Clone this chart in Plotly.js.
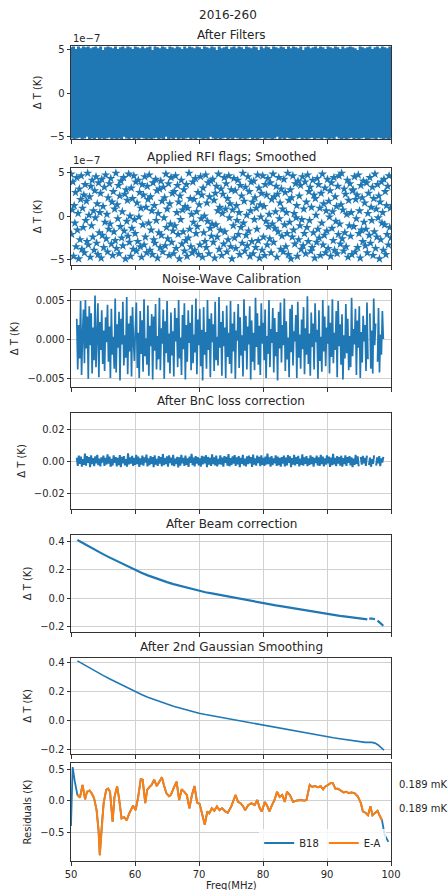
<!DOCTYPE html>
<html><head><meta charset="utf-8">
<script src="https://cdn.plot.ly/plotly-3.0.1.min.js"></script>
<style>html,body{margin:0;padding:0;background:#fff}#chart{width:448px;height:890px}</style>
</head><body><div id="chart"></div>
<script>
// ---------------- DATA ----------------
const figTitle = "2016-260";
const panelTitles = ["After Filters", "Applied RFI flags; Smoothed", "Noise-Wave Calibration",
  "After BnC loss correction", "After Beam correction", "After 2nd Gaussian Smoothing"];
const xTicks = [50, 60, 70, 80, 90, 100];

// Panel 1: after filters (units of 1e-7 K)
const filtered_1e7 = [
5.3,-5.2,5.4,-5.3,5.1,-5.2,5.4,-5.1,5.2,-5.3,5.4,-5.2,5.3,-5.0,5.4,-5.3,5.2,-5.2,5.3,-5.3,
5.4,-5.1,5.2,-5.3,5.4,-5.2,5.0,-5.3,5.3,-5.2,5.4,-5.1,5.3,-5.3,5.2,-5.2,5.4,-5.3,5.1,-5.2,
5.3,-5.3,5.4,-5.0,5.2,-5.2,5.4,-5.3,5.3,-5.1,5.1,-5.3,5.4,-5.2,5.3,-5.3,5.2,-5.1,5.4,-5.2,
5.2,-5.3,5.3,-5.2,5.4,-5.3,5.0,-5.2,5.4,-5.1,5.3,-5.3,5.2,-5.2,5.4,-5.3,5.3,-5.0,5.1,-5.3,
5.4,-5.2,5.3,-5.3,5.2,-5.1,5.4,-5.3,5.3,-5.2,5.1,-5.3,5.4,-5.2,5.2,-5.1,5.4,-5.3,5.3,-5.2,
5.2,-5.3,5.4,-5.1,5.3,-5.2,5.1,-5.3,5.4,-5.2,5.3,-5.3,5.2,-5.0,5.4,-5.2,5.3,-5.3,5.0,-5.2,
5.4,-5.3,5.2,-5.2,5.3,-5.1,5.4,-5.3,5.1,-5.2,5.3,-5.3,5.4,-5.1,5.2,-5.2,5.4,-5.3,5.3,-5.2,
5.1,-5.3,5.4,-5.2,5.3,-5.1,5.2,-5.3,5.4,-5.2,5.3,-5.3,5.0,-5.2,5.4,-5.1,5.2,-5.3,5.4,-5.2,
5.3,-5.2,5.1,-5.3,5.4,-5.2,5.3,-5.0,5.2,-5.3,5.4,-5.2,5.3,-5.3,5.1,-5.1,5.4,-5.2,5.2,-5.3,
5.4,-5.3,5.3,-5.2,5.2,-5.1,5.4,-5.3,5.0,-5.2,5.3,-5.3,5.4,-5.2,5.2,-5.1,5.3,-5.3,5.4,-5.2,
5.2,-5.2,5.4,-5.3,5.3,-5.1,5.1,-5.2,5.4,-5.3,5.3,-5.2,5.2,-5.3,5.4,-5.0,5.3,-5.2,5.1,-5.3,
5.4,-5.2,5.2,-5.3,5.3,-5.2,5.4,-5.1,5.3,-5.3,5.2,-5.2,5.0,-5.3,5.4,-5.2,5.3,-5.1,5.2,-5.3,
5.3,-5.3,5.4,-5.2,5.1,-5.2,5.3,-5.3,5.4,-5.1,5.2,-5.2,5.4,-5.3,5.3,-5.2,5.2,-5.3,5.4,-5.2
];

// Panel 2: RFI flagged + smoothed (units of 1e-7 K)
const rfiSmoothed_1e7 = [
4.8,-2.1,0.7,3.9,-4.6,1.2,-0.8,2.7,-3.5,4.4,-1.6,0.3,-4.9,3.1,-2.7,1.9,4.6,-3.8,0.9,-1.3,
2.4,-4.2,3.6,-0.5,1.7,-2.9,4.9,-3.3,0.1,2.2,-4.7,3.4,-1.1,4.1,-2.4,0.6,-3.9,2.9,-0.2,4.5,
-3.1,1.4,-4.4,3.8,-1.9,0.4,2.6,-4.8,4.2,-2.2,1.1,-3.6,3.3,-0.7,4.7,-2.6,0.2,-4.1,2.1,-1.5,
3.7,-0.9,4.3,-3.2,1.6,-4.5,2.8,-1.8,0.8,-2.8,4.9,-3.7,1.3,-0.3,3.5,-4.3,2.3,-1.2,4.0,-2.5,
0.5,-3.4,4.4,-1.7,2.5,-4.9,3.0,-0.6,1.8,-2.3,4.8,-3.0,0.0,-4.6,3.2,-1.4,2.0,-3.8,4.6,-0.4,
-2.0,3.9,-4.0,1.5,-2.9,4.1,-0.1,2.7,-3.5,0.9,-4.7,3.6,-1.0,2.4,-3.3,4.5,-2.4,1.0,-4.2,3.4,
1.9,-0.8,4.7,-3.9,2.2,-1.6,0.6,-4.4,3.8,-2.7,1.2,-3.1,4.2,-0.5,2.9,-4.8,0.3,-1.9,3.1,-3.6,
4.0,-2.2,1.7,-4.1,3.3,-0.2,2.1,-3.4,4.8,-1.3,0.8,-2.6,3.7,-4.5,1.4,-0.9,4.4,-3.0,2.6,-1.7,
-4.3,2.8,-1.1,4.6,-3.7,0.4,3.5,-2.1,1.6,-4.9,2.3,-0.4,4.1,-3.2,0.7,-1.8,3.0,-4.0,1.1,-2.8,
3.6,-4.6,0.9,-2.5,4.9,-1.5,2.0,-3.5,0.2,-4.2,3.9,-0.7,1.9,-3.9,4.3,-2.0,0.5,-1.2,2.7,-4.4,
1.3,-3.3,4.5,-0.3,2.4,-4.7,3.2,-1.9,0.0,-2.9,4.7,-3.6,1.5,-0.6,3.8,-4.3,2.2,-1.4,4.0,-2.3,
-0.9,4.2,-3.0,1.8,-4.8,2.6,-1.0,3.4,-2.4,0.6,4.8,-3.8,1.0,-1.6,3.1,-4.5,0.3,2.5,-3.2,4.4,
-1.8,0.8,3.7,-4.1,2.0,-2.7,4.6,-0.2,1.4,-3.5,3.0,-4.9,0.7,-1.1,4.3,-2.5,2.9,-3.7,1.2,-0.5,
4.1,-2.1,0.4,-4.4,3.5,-1.3,2.3,-3.1,4.9,-0.8,1.7,-4.0,3.3,-2.2,0.1,-3.4,4.5,-1.7,2.8,-4.6,
0.6,3.9,-2.9,1.6,-4.3,4.0,-0.4,2.1,-3.6,0.9,-1.5,4.7,-2.8,3.2,-4.8,1.3,-0.1,2.6,-3.9,4.6,
-2.4,1.1,-4.5,3.6,-0.6,2.4,-3.3,4.3,-1.2,0.2,-2.6,3.8,-4.2,1.9,-0.9,4.8,-3.0,2.2,-1.4,0.5,
3.4,-4.7,2.5,-1.8,4.4,-0.3,1.5,-3.8,3.1,-2.3,0.8,-4.1,4.2,-1.0,2.7,-3.5,0.4,-2.0,4.9,-4.4,
1.8,-0.7,3.0,-4.9,2.1,-2.4,4.6,-1.6,0.3,-3.2,3.7,-0.2,1.2,-4.6,4.0,-2.7,2.3,-1.1,3.5,-3.8,
-0.4,4.5,-3.4,0.8,-2.0,3.9,-4.3,1.6,-1.3,4.7,-2.9,2.8,-0.5,3.3,-4.0,1.0,-3.6,4.1,-1.9,2.4,
-4.8,2.0,0.1,-3.0,4.3,-1.5,3.6,-2.5,0.9,-4.5,2.6,-0.8,4.8,-3.3,1.4,-2.2,3.2,-4.2,0.6,-1.7,
4.2,-3.7,1.7,-0.1,2.9,-4.6,3.8,-1.4,0.5,-2.8,4.4,-3.9,2.2,-0.6,1.1,-4.3,3.4,-2.1,4.6,-0.9,
-3.2,1.3,4.9,-2.6,0.7,-4.0,3.1,-1.9,2.5,-3.5,0.2,4.1,-4.7,1.8,-1.1,3.7,-2.3,0.4,-4.4,2.9,
3.0,-1.2,4.5,-4.1,1.9,-0.3,2.4,-3.6,4.7,-2.0,0.6,-4.8,3.5,-1.6,2.1,-2.9,4.0,-0.7,1.5,-3.4,
-1.5,3.8,-4.2,0.3,2.6,-2.2,4.4,-3.1,1.0,-0.5,3.3,-4.5,2.0,-1.8,4.8,-3.7,0.8,-2.4,3.6,-0.2,
2.3,-4.9,1.6,-2.7,3.9,-0.8,0.4,-3.9,4.2,-1.0,2.8,-4.4,1.2,-2.1,3.4,-3.3,4.6,-1.3,0.9,-2.5
];

// Panel 3: noise-wave calibration (mK)
const noiseWave_mK = [
2.6,-3.9,1.8,-2.5,4.9,-4.6,0.6,3.8,-3.1,5.0,-1.2,2.9,-5.1,4.2,-0.8,3.3,-4.4,1.5,-2.7,5.6,
-3.6,0.9,4.6,-4.9,2.2,-1.4,3.7,-3.2,1.1,-4.1,2.8,-0.4,4.4,-2.9,1.6,-5.0,3.9,-2.0,0.3,-3.8,
5.2,-4.3,1.9,-1.1,3.5,-5.3,2.6,-0.7,4.8,-3.4,0.5,-2.4,5.4,-4.5,2.0,-1.6,3.0,-4.8,4.1,-0.2,
-2.8,1.3,4.7,-3.7,0.8,-5.0,3.6,-1.9,2.4,-4.2,5.1,-2.2,0.1,-3.3,4.3,-4.7,1.7,-0.9,3.2,-5.2,
2.9,-1.5,4.5,-3.9,0.4,-2.6,5.3,-4.0,1.4,-0.6,3.8,-5.1,2.3,-1.8,4.9,-3.0,0.7,-4.4,3.4,-2.1,
1.0,-4.8,4.0,-0.3,2.7,-3.6,5.0,-2.5,0.2,-4.6,3.1,-1.3,4.6,-5.2,1.8,-2.9,3.7,-0.5,2.1,-4.0,
4.4,-3.1,0.6,-1.7,5.2,-4.5,2.5,-0.8,3.9,-3.5,1.2,-5.3,4.1,-2.0,0.9,-3.8,5.0,-1.4,2.6,-4.9,
3.3,-0.4,1.9,-4.1,4.8,-2.7,0.3,-3.4,5.4,-1.1,2.2,-4.7,3.6,-0.9,1.5,-5.0,4.3,-2.3,0.8,-3.2,
4.9,-4.4,2.0,-1.6,3.5,-5.1,1.1,-0.2,4.5,-3.7,2.8,-2.1,0.5,-4.8,5.1,-1.5,3.0,-3.9,1.6,-0.7,
4.2,-5.2,2.4,-2.9,0.8,-4.0,5.3,-1.0,3.3,-3.3,1.7,-4.6,4.6,-0.6,2.1,-2.7,3.8,-5.0,0.4,-1.9,
5.0,-3.6,1.3,-0.5,4.0,-4.3,2.7,-2.2,0.9,-5.3,3.5,-1.2,4.7,-3.0,1.8,-0.8,5.2,-4.1,2.3,-2.6,
0.2,-4.9,3.9,-1.7,4.4,-3.4,1.0,-0.3,3.1,-5.0,4.8,-2.4,0.6,-3.8,2.5,-1.3,4.1,-4.5,1.4,-2.0,
5.5,-3.2,0.7,-4.7,3.4,-1.0,2.0,-3.9,4.6,-0.4,1.2,-5.1,3.7,-2.8,0.3,-4.2,5.0,-1.6,2.9,-3.5,
1.5,-0.6,4.3,-4.4,2.1,-2.3,5.1,-3.1,0.8,-1.4,3.6,-4.9,4.9,-0.9,1.9,-3.3,3.2,-5.2,0.5,-2.5,
4.5,-1.8,2.6,-4.0,0.4,-3.6,5.3,-2.2,1.3,-0.7,3.9,-4.6,2.4,-1.1,4.2,-5.0,0.9,-3.0,3.0,-0.3,
1.8,-4.1,4.7,-2.6,null,3.3,-3.8,1.1,-4.4,5.2,-0.8,2.0,null,-2.9,4.0,-4.3,0.6,-2.0,3.6,0.0
];

// Panel 4: after BnC loss correction (mK)
const bncCorrected_mK = [
2.1,-3.0,3.4,-1.8,2.7,-3.5,1.2,-2.4,4.6,-2.9,3.1,-1.1,2.5,-3.8,3.6,-2.0,1.8,-3.2,2.9,-1.5,
3.8,-2.6,1.5,-3.4,2.2,-0.9,3.3,-3.1,2.0,-2.2,4.2,-1.7,2.8,-3.6,1.4,-2.8,3.5,-1.2,2.4,-3.3,
1.9,-2.5,3.7,-3.9,2.6,-1.4,3.0,-2.7,1.1,-3.5,4.8,-2.1,2.3,-1.6,3.2,-3.0,2.0,-2.4,3.9,-1.9,
2.7,-3.7,1.6,-2.3,3.4,-2.9,2.2,-1.0,4.0,-3.4,1.7,-2.6,3.1,-1.8,2.5,-3.9,3.6,-2.2,1.3,-3.1,
3.0,-1.6,2.4,-3.3,4.4,-2.5,1.8,-2.0,2.9,-3.6,3.5,-1.3,2.1,-2.8,3.8,-3.2,1.5,-1.9,2.6,-4.0,
2.3,-2.9,3.9,-1.5,2.0,-3.0,3.3,-2.4,1.6,-3.7,2.7,-1.1,4.5,-2.6,2.1,-3.3,3.0,-1.7,2.4,-2.8,
1.7,-3.5,3.2,-2.1,2.8,-1.4,3.6,-3.8,2.5,-2.3,1.9,-3.1,4.1,-1.9,2.2,-2.7,3.4,-3.4,1.4,-2.0,
3.5,-2.2,2.1,-3.6,3.0,-1.2,2.6,-2.9,4.3,-3.3,1.8,-2.5,2.9,-1.6,3.7,-3.0,2.3,-2.1,3.1,-3.8,
2.0,-1.8,3.8,-2.7,1.5,-3.4,2.9,-2.0,3.4,-1.5,2.4,-3.7,4.0,-2.3,1.7,-2.9,3.3,-1.3,2.6,-3.2,
3.6,-2.4,1.9,-3.0,2.7,-2.2,4.6,-1.9,2.2,-3.5,3.1,-2.6,1.6,-1.4,3.5,-3.1,2.8,-2.5,2.0,-3.6,
2.5,-1.6,3.3,-3.3,2.1,-2.8,3.7,-1.1,2.9,-3.9,1.8,-2.2,3.9,-2.7,2.4,-1.8,3.2,-3.4,1.5,-2.4,
4.1,-2.9,2.3,-1.7,3.0,-3.2,1.7,-2.5,3.6,-2.0,2.6,-3.6,2.0,-1.3,3.4,-2.8,2.2,-3.0,3.8,-1.9,
2.8,-3.4,1.6,-2.3,3.5,-1.5,2.7,-3.7,2.1,-2.6,4.4,-2.1,1.9,-3.2,3.1,-1.6,2.5,-2.9,3.3,-3.5,
1.8,-2.0,3.6,-3.1,2.4,-1.2,3.0,-2.7,2.2,-3.8,1.5,-2.4,3.9,-1.8,2.9,-3.3,null,2.6,-2.2,3.2,
-1.4,1.9,-3.0,3.4,null,-2.5,2.1,-3.6,1.2,-1.8,3.5,null,-2.9,2.3,-1.5,3.0,-3.2,1.6,-1.0,2.6
];
const flaggedStart = 50.9, flaggedEnd = 98.8;   // MHz span of panels 3-4

// Panel 5: after beam correction (K)
const beamFreq = [51,52,53,54,55,56,57,58,59,60,61,62,63,64,65,66,67,68,69,70,71,72,73,74,75,
  76,77,78,79,80,81,82,83,84,85,86,87,88,89,90,91,92,93,94,95,96,96.3,96.45,96.6,97.0,97.5,97.7,97.9,98.3,98.8];
const beamT = [0.410,0.384,0.358,0.334,0.310,0.287,0.265,0.244,0.222,0.197,0.178,0.160,0.143,0.127,0.112,
  0.098,0.086,0.074,0.062,0.051,0.041,0.033,0.024,0.016,0.007,-0.001,-0.010,-0.019,-0.028,-0.037,
  -0.044,-0.052,-0.059,-0.067,-0.074,-0.082,-0.089,-0.097,-0.104,-0.112,-0.119,-0.126,-0.132,-0.139,-0.145,
  -0.150,-0.151,null,-0.146,-0.145,-0.150,null,-0.160,-0.175,-0.196];

// Panel 6: after 2nd Gaussian smoothing (K)
const smoothFreq = [51,52,53,54,55,56,57,58,59,60,61,62,63,64,65,66,67,68,69,70,71,72,73,74,75,
  76,77,78,79,80,81,82,83,84,85,86,87,88,89,90,91,92,93,94,95,96,97,97.5,98,98.4,98.9];
const smoothT = [0.410,0.384,0.358,0.334,0.310,0.287,0.265,0.243,0.221,0.198,0.178,0.160,0.143,0.127,0.112,
  0.098,0.085,0.073,0.061,0.049,0.040,0.032,0.023,0.015,0.006,-0.002,-0.011,-0.020,-0.028,-0.037,
  -0.045,-0.052,-0.060,-0.067,-0.075,-0.082,-0.090,-0.097,-0.105,-0.113,-0.120,-0.127,-0.133,-0.140,-0.149,
  -0.152,-0.152,-0.157,-0.170,-0.186,-0.205];

// Panel 7: residuals (K)
const resFreq = [50.0,50.26,50.6,51.0,51.4,51.8,52.2,52.5,52.9,53.2,53.6,54.0,54.3,54.5,54.8,55.1,55.5,55.8,56.1,56.5,
  56.8,57.2,57.5,57.9,58.3,58.7,59.1,59.4,59.7,60.1,60.5,60.9,61.2,61.6,61.9,62.3,62.6,63.0,63.4,63.8,
  64.2,64.5,64.9,65.3,65.6,66.0,66.5,66.9,67.3,67.7,68.1,68.5,68.9,69.3,69.7,70.1,70.5,70.9,71.3,71.6,
  72.0,72.4,72.8,73.2,73.6,74.1,74.5,75.05,75.7,76.1,76.5,76.9,77.2,77.7,78.2,78.7,79.1,79.5,79.8,80.3,
  80.7,81.0,81.4,81.8,82.2,82.6,83.0,83.4,83.75,84.2,84.7,85.2,85.9,86.5,86.8,87.3,87.65,88.2,88.6,89.0,
  89.4,89.7,90.2,90.6,90.9,91.3,91.7,92.2,92.6,93.0,93.4,93.8,94.3,94.8,95.3,95.6,96.0,96.4,96.8,97.1,
  97.4,97.9,98.2,98.6,99.0,99.4,99.6];
const resB18 = [-0.40,0.53,0.30,0.09,0.05,0.25,0.02,0.14,0.16,0.12,0.04,-0.15,-0.46,-0.86,-0.41,-0.04,0.17,0.19,0.14,-0.33,
  0.06,0.23,0.04,-0.28,-0.26,-0.31,-0.20,-0.14,-0.08,-0.15,0.06,0.34,0.33,-0.04,0.17,0.22,0.25,0.33,0.23,0.30,
  0.37,0.25,0.12,0.07,0.09,0.19,0.30,0.01,0.18,0.14,0.09,-0.12,0.09,0.23,-0.03,-0.05,-0.20,-0.38,-0.17,-0.20,
  -0.12,-0.16,-0.09,-0.15,-0.12,-0.17,-0.19,-0.09,0.09,-0.02,-0.04,-0.09,-0.15,-0.07,-0.04,-0.07,0.01,-0.12,-0.17,-0.02,
  -0.09,-0.17,-0.07,0.01,0.14,0.06,0.09,-0.02,0.14,0.09,-0.02,0.00,0.01,0.00,0.01,0.25,0.22,0.23,0.21,0.23,
  0.18,0.22,0.25,0.28,0.28,0.19,0.19,0.16,0.13,0.14,0.12,0.13,0.12,0.07,-0.04,-0.17,-0.19,-0.23,-0.09,-0.23,
  -0.20,-0.16,-0.23,-0.31,-0.54,-0.62,-0.65];
const eaBand = [51.0, 98.6];           // MHz span covered by the E-A series
const rmsLabels = ["0.189 mK", "0.189 mK"];

// ---------------- HELPERS ----------------
function channels(a, b, n) { const out = []; for (let i = 0; i < n; i++) out.push(a + (b - a) * i / (n - 1)); return out; }
const mK = v => v === null ? null : v / 1000;
const eaIdx = resFreq.map((f, i) => i).filter(i => resFreq[i] >= eaBand[0] && resFreq[i] <= eaBand[1]);

const BLUE = '#1f77b4', ORANGE = '#ff7f0e';
const FONT = 'DejaVu Sans, Liberation Sans, sans-serif';
const TXT = '#262626';

// plot area pixel layout
const W = 448, H = 890, L = 71, R = 57, T = 46, B = 29;
const PH = H - T - B;
const boxes = [[46,139],[168,265],[290,387],[413,509],[535,632],[658,754],[763,861]];
const dom = boxes.map(([t, b]) => [(H - B - b) / PH, (H - B - t) / PH]);

const traces = [
  {x: channels(50, 100, filtered_1e7.length), y: filtered_1e7, mode: 'lines', line: {color: BLUE, width: 3}, xaxis: 'x', yaxis: 'y', showlegend: false, hoverinfo: 'skip'},
  {x: channels(50, 100, rfiSmoothed_1e7.length), y: rfiSmoothed_1e7, mode: 'markers', marker: {symbol: 'star', size: 7, color: BLUE, line: {width: 0}}, xaxis: 'x2', yaxis: 'y2', showlegend: false, hoverinfo: 'skip'},
  {x: channels(flaggedStart, flaggedEnd, noiseWave_mK.length), y: noiseWave_mK.map(mK), mode: 'lines', line: {color: BLUE, width: 1.7}, connectgaps: false, xaxis: 'x3', yaxis: 'y3', showlegend: false, hoverinfo: 'skip'},
  {x: channels(flaggedStart, flaggedEnd, bncCorrected_mK.length), y: bncCorrected_mK.map(mK), mode: 'lines', line: {color: BLUE, width: 2}, connectgaps: false, xaxis: 'x4', yaxis: 'y4', showlegend: false, hoverinfo: 'skip'},
  {x: beamFreq, y: beamT, mode: 'lines', line: {color: BLUE, width: 2.2}, connectgaps: false, xaxis: 'x5', yaxis: 'y5', showlegend: false, hoverinfo: 'skip'},
  {x: smoothFreq, y: smoothT, mode: 'lines', line: {color: BLUE, width: 1.6}, xaxis: 'x6', yaxis: 'y6', showlegend: false, hoverinfo: 'skip'},
  {x: resFreq, y: resB18, name: 'B18', mode: 'lines', line: {color: BLUE, width: 1.8}, xaxis: 'x7', yaxis: 'y7'},
  {x: eaIdx.map(i => resFreq[i]), y: eaIdx.map(i => resB18[i]), name: 'E-A', mode: 'lines', line: {color: ORANGE, width: 2}, xaxis: 'x7', yaxis: 'y7'}
];

const yCfg = [
  {range: [-5.25, 5.45], tickvals: [-5, 0, 5], showgrid: false},
  {range: [-5.6, 5.5], tickvals: [-5, 0, 5], showgrid: false},
  {range: [-0.00615, 0.0063], tickvals: [-0.005, 0, 0.005], tickformat: '.3f', showgrid: true},
  {range: [-0.03, 0.03], tickvals: [-0.02, 0, 0.02], tickformat: '.2f', showgrid: true},
  {range: [-0.24, 0.445], tickvals: [-0.2, 0, 0.2, 0.4], tickformat: '.1f', showgrid: true},
  {range: [-0.232, 0.43], tickvals: [-0.2, 0, 0.2, 0.4], tickformat: '.1f', showgrid: true},
  {range: [-0.953, 0.595], tickvals: [-0.5, 0, 0.5], tickformat: '.1f', showgrid: true}
];
const yTitles = ['Δ T (K)', 'Δ T (K)', 'Δ T (K)', 'Δ T (K)', 'Δ T (K)', 'Δ T (K)', 'Residuals (K)'];

const layout = {
  width: W, height: H, autosize: false,
  margin: {l: L, r: R, t: T, b: B, pad: 0},
  paper_bgcolor: '#fff', plot_bgcolor: '#fff',
  font: {family: FONT, size: 10, color: TXT},
  showlegend: true,
  legend: {orientation: 'h', x: 0.985, xanchor: 'right', y: (H - B - 843) / PH, yanchor: 'middle',
    bgcolor: 'rgba(255,255,255,0.8)', borderwidth: 0, font: {size: 10, color: TXT}, traceorder: 'normal'},
  annotations: [],
  hovermode: false
};

for (let i = 0; i < 7; i++) {
  const s = i === 0 ? '' : String(i + 1);
  layout['xaxis' + s] = {
    domain: [0, 1], anchor: 'y' + s, range: [50, 100], tickvals: xTicks,
    showticklabels: i === 6, ticks: 'outside', ticklen: 3.5, tickwidth: 1, tickcolor: '#333',
    showline: true, mirror: true, linecolor: '#333', linewidth: 1,
    showgrid: i >= 2, gridcolor: '#d0d0d0', gridwidth: 1, zeroline: false,
    tickfont: {size: 10, color: TXT, family: FONT}
  };
  layout['yaxis' + s] = Object.assign({
    domain: dom[i], anchor: 'x' + s,
    ticks: 'outside', ticklen: 3.5, tickwidth: 1, tickcolor: '#333',
    showline: true, mirror: true, linecolor: '#333', linewidth: 1,
    gridcolor: '#d0d0d0', gridwidth: 1, zeroline: false,
    tickfont: {size: 10, color: TXT, family: FONT},
    title: {text: yTitles[i], font: {size: 10, color: TXT, family: FONT}, standoff: 6}
  }, yCfg[i]);
}

// subplot titles
panelTitles.forEach((t, i) => {
  layout.annotations.push({text: t, xref: 'paper', yref: 'paper', x: 0.5, y: dom[i][1], xanchor: 'center', yanchor: 'middle',
    yshift: 11.5, showarrow: false, font: {size: 12, color: TXT, family: FONT}});
});
// figure title
layout.annotations.push({text: figTitle, xref: 'paper', yref: 'paper', x: 0.49, y: 1, xanchor: 'center', yanchor: 'middle',
  yshift: 31, showarrow: false, font: {size: 12, color: TXT, family: FONT}});
// offset labels
[0, 1].forEach(i => layout.annotations.push({text: '1e−7', xref: 'paper', yref: 'paper', x: 0, y: dom[i][1], xanchor: 'left', yanchor: 'middle',
  yshift: 8, showarrow: false, font: {size: 10, color: TXT, family: FONT}}));
// rms labels
[784, 808].forEach((py, k) => layout.annotations.push({text: rmsLabels[k], xref: 'paper', yref: 'paper', x: (397 - L) / (W - L - R), y: (H - B - py) / PH,
  xanchor: 'left', yanchor: 'middle', showarrow: false, font: {size: 10, color: TXT, family: FONT}}));
// x-axis title
layout.annotations.push({text: 'Freq(MHz)', xref: 'paper', yref: 'paper', x: 0.5, y: 0, xanchor: 'center', yanchor: 'top',
  yshift: -17, showarrow: false, font: {size: 10, color: TXT, family: FONT}});

Plotly.newPlot('chart', traces, layout, {staticPlot: true, displayModeBar: false});
</script>
</body></html>
